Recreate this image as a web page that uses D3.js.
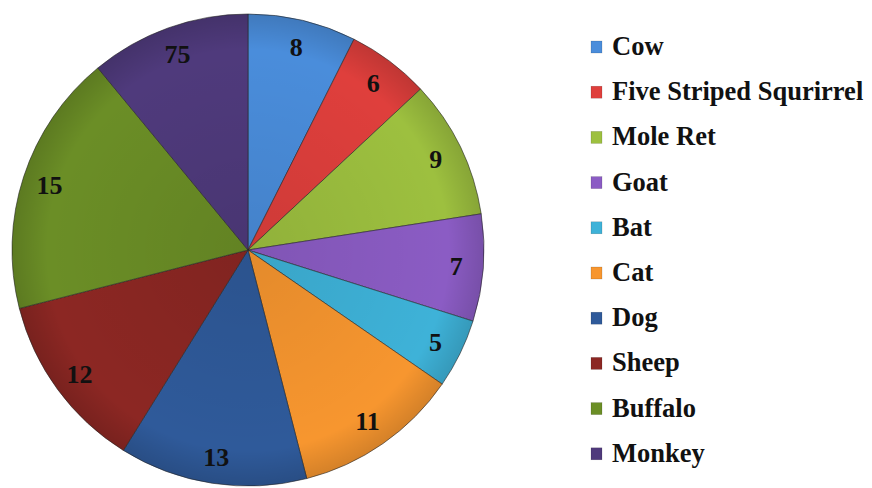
<!DOCTYPE html>
<html lang="en">
<head>
    <meta charset="utf-8">
    <script src="https://d3js.org/d3.v7.min.js"></script>
    <style>
        body { margin: 0; background: #fff; }
    </style>
</head>
<body>
<div id="chart"></div>
<script type="text/javascript">
  // categories in drawing order (clockwise from 12 o'clock)
  const animals = ["Cow", "Five Striped Squrirrel", "Mole Ret", "Goat", "Bat",
    "Cat", "Dog", "Sheep", "Buffalo", "Monkey"];
  // slice sizes
  const shares = [7.5, 5.7, 9.6, 7.4, 4.8, 11.5, 13, 12.3, 18.2, 11.1];
  // the numbers printed on the slices
  const sliceLabels = ["8", "6", "9", "7", "5", "11", "13", "12", "15", "75"];
  const colors = ["#4a8ddb", "#df3f3c", "#9dc03f", "#8b5cc4", "#3eb2d8",
    "#f7962f", "#2f5a9a", "#8c2723", "#6b8e26", "#4f3a7c"];

  const svgWidth = 872, svgHeight = 488;
  const cx = 248, cy = 250, radius = 236;
  const serif = "'Liberation Serif'";

  const svg = d3.select("#chart")
    .append("svg")
    .attr("width", svgWidth)
    .attr("height", svgHeight);

  const color = d3.scaleOrdinal().domain(animals).range(colors);

  const pie = d3.pie().sort(null).value(d => d.share);
  const arc = d3.arc().innerRadius(0).outerRadius(radius);
  const labelArc = d3.arc().innerRadius(radius * 0.885).outerRadius(radius * 0.885);

  const data = animals.map((a, i) => ({name: a, share: shares[i], label: sliceLabels[i]}));

  // soft shading like the office bevel
  const defs = svg.append("defs");
  const grad = defs.append("radialGradient")
    .attr("id", "shade")
    .attr("gradientUnits", "userSpaceOnUse")
    .attr("cx", 0).attr("cy", 0).attr("r", radius);
  grad.append("stop").attr("offset", "0%").attr("stop-color", "#000").attr("stop-opacity", 0.08);
  grad.append("stop").attr("offset", "85%").attr("stop-color", "#000").attr("stop-opacity", 0);
  grad.append("stop").attr("offset", "100%").attr("stop-color", "#000").attr("stop-opacity", 0.14);

  const g = svg.append("g").attr("transform", "translate(" + cx + "," + cy + ")");

  const slices = g.selectAll("g.slice").data(pie(data)).enter().append("g").attr("class", "slice");

  slices.append("path")
    .attr("d", arc)
    .attr("fill", d => color(d.data.name))
    .attr("stroke", "rgba(40,40,40,0.6)")
    .attr("stroke-width", 1);

  slices.append("path")
    .attr("d", arc)
    .attr("fill", "url(#shade)");

  slices.append("text")
    .attr("transform", d => "translate(" + labelArc.centroid(d) + ")")
    .attr("text-anchor", "middle")
    .attr("dy", "0.35em")
    .style("font-family", serif)
    .style("font-weight", "bold")
    .style("font-size", "26px")
    .style("fill", "#111")
    .text(d => d.data.label);

  // legend
  const legend = svg.append("g").attr("transform", "translate(591,55)");
  const rows = legend.selectAll("g").data(animals).enter().append("g")
    .attr("transform", (d, i) => "translate(0," + (i * 45.2) + ")");

  rows.append("rect")
    .attr("x", 0).attr("y", -14)
    .attr("width", 11).attr("height", 12)
    .attr("fill", d => color(d))
    .attr("stroke", "rgba(0,0,0,0.25)")
    .attr("stroke-width", 0.5);

  rows.append("text")
    .attr("x", 21)
    .attr("y", 0)
    .style("font-family", serif)
    .style("font-weight", "bold")
    .style("font-size", "26.5px")
    .style("fill", "#111")
    .text(d => d);
</script>
</body>
</html>
